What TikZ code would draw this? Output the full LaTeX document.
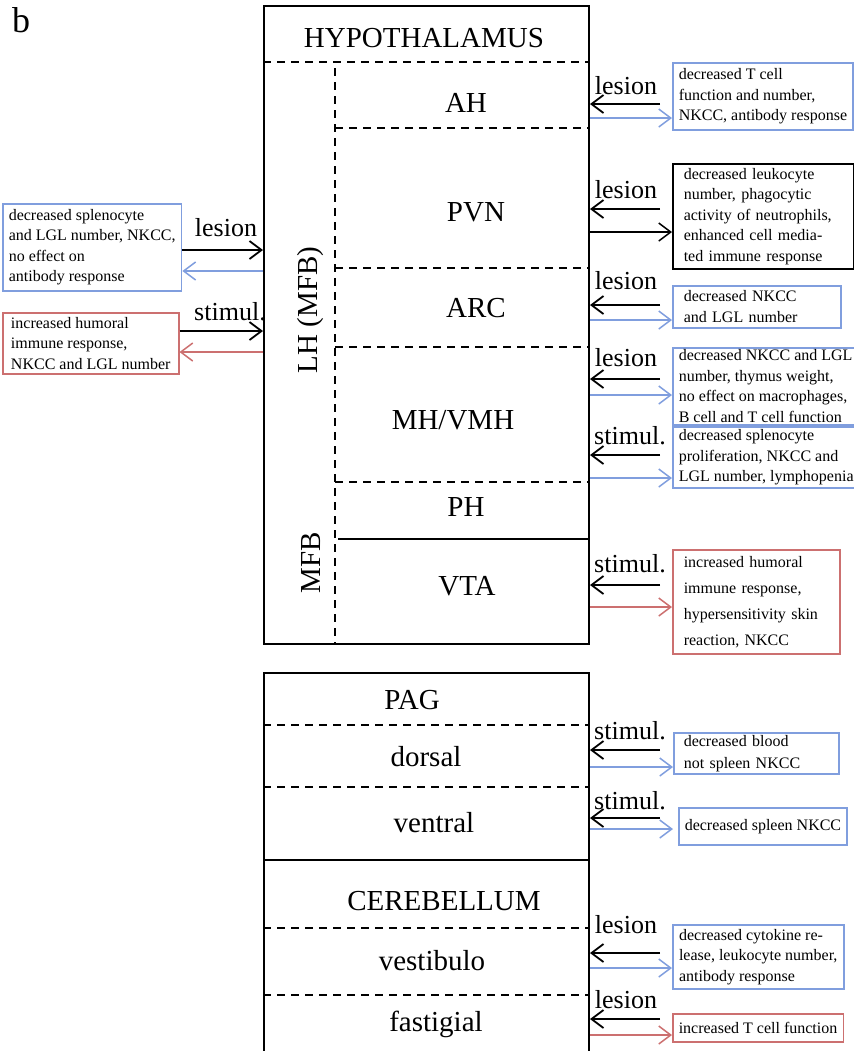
\documentclass[tikz,border=0pt]{standalone}
\usepackage{fontspec}
\setmainfont{Liberation Serif}
\usetikzlibrary{arrows.meta}
\definecolor{resblue}{RGB}{128,158,222}
\definecolor{resred}{RGB}{204,112,112}

\begin{document}
\begin{tikzpicture}[x=0.5pt,y=-0.5pt,>={Straight Barb[length=6pt,width=9pt]},
  region/.style={font=\fontsize{14.5}{17}\selectfont},
  act/.style={font=\fontsize{13}{15}\selectfont},
  res/.style={draw=#1,line width=0.75pt,align=left,anchor=north west,
    inner xsep=3pt,inner ysep=0pt,font=\fontsize{8}{10.25}\selectfont},
  res/.default=resblue,
  arr/.style={->,line width=0.9pt},
  back/.style={->,line width=0.75pt,draw=#1},
  div/.style={line width=0.75pt,dash pattern=on 4pt off 3pt}]
  \useasboundingbox (0,0) rectangle (854,1051);
  \node[font=\fontsize{18}{20}\selectfont] (panel) at (21,20) {b};
  \coordinate (tail) at (660,0);

  % hypothalamus column
  \node[draw,line width=1pt,anchor=north west,inner sep=0pt,
    minimum width=162.5pt,minimum height=319pt] (hypo) at (263,5) {};
  \draw[div] (hypo.west |- 0,62) -- (hypo.east |- 0,62);
  \draw[div] (335,68) -- (335,643);
  \draw[div] (335,128) -- (hypo.east |- 0,128);
  \draw[div] (335,268) -- (hypo.east |- 0,268);
  \draw[div] (335,347) -- (hypo.east |- 0,347);
  \draw[div] (335,482) -- (hypo.east |- 0,482);
  \draw[line width=0.75pt] (338,539) -- (hypo.east |- 0,539);
  \node[region] (hyp) at (424,38) {HYPOTHALAMUS};
  \node[region] (ah) at (466,103) {AH};
  \node[region] (pvn) at (476,212) {PVN};
  \node[region] (arc) at (476,308) {ARC};
  \node[region] (mh) at (453,420) {MH/VMH};
  \node[region] (ph) at (466,507) {PH};
  \node[region] (vta) at (467,586) {VTA};
  \node[region,rotate=90] (lh) at (311,310) {LH (MFB)};
  \node[region,rotate=90] (mfb) at (311,563) {MFB};

  % PAG and cerebellum column
  \node[draw,line width=1pt,anchor=north west,inner sep=0pt,
    minimum width=162.5pt,minimum height=194pt] (low) at (263,672) {};
  \draw[div] (low.west |- 0,725) -- (low.east |- 0,725);
  \draw[div] (low.west |- 0,787) -- (low.east |- 0,787);
  \draw[line width=1pt] (low.west |- 0,860) -- (low.east |- 0,860);
  \draw[div] (low.west |- 0,928) -- (low.east |- 0,928);
  \draw[div] (low.west |- 0,995) -- (low.east |- 0,995);
  \node[region] (pag) at (412,700) {PAG};
  \node[region] (dors) at (426,757) {dorsal};
  \node[region] (vent) at (434,823) {ventral};
  \node[region] (cer) at (444,901) {CEREBELLUM};
  \node[region] (vest) at (432,961) {vestibulo};
  \node[region] (fast) at (436,1024) {fastigial};

  % result boxes, left
  \node[res,minimum width=88pt,minimum height=43.5pt] (lhles) at (2,203)
    {decreased splenocyte\\and LGL number, NKCC,\\no effect on\\antibody response};
  \node[res=resred,minimum width=88pt,minimum height=30.5pt] (lhsti) at (2,312)
    {increased humoral\\immune response,\\NKCC and LGL number};
  \node[act] (t1) at (226,228) {lesion};
  \node[act] (t2) at (230,312) {stimul.};
  \draw[arr] (lhles.east |- 0,250) -- (hypo.west |- 0,250);
  \draw[back=resblue] (hypo.west |- 0,271) -- (lhles.east |- 0,271);
  \draw[arr] (lhsti.east |- 0,331) -- (hypo.west |- 0,331);
  \draw[back=resred] (hypo.west |- 0,352) -- (lhsti.east |- 0,352);

  % result boxes, right
  \node[res,minimum width=89.5pt,minimum height=33.5pt] (ahres) at (672,62)
    {decreased T cell\\function and number,\\NKCC, antibody response};
  \node[res=black,minimum width=90.5pt,minimum height=52.5pt,text width=79.5pt] (pvnres) at (672,163)
    {decreased leukocyte\\number, phagocytic\\activity of neutrophils,\\enhanced cell media-\\ted immune response};
  \node[res,minimum width=84pt,minimum height=21pt,text width=73pt] (arcres) at (672,285)
    {decreased NKCC\\and LGL number};
  \node[res,minimum width=92pt,minimum height=38.5pt] (mhles) at (672,347)
    {decreased NKCC and LGL\\number, thymus weight,\\no effect on macrophages,\\B cell and T cell function};
  \node[res,minimum width=92pt,minimum height=30.5pt] (mhsti) at (672,426)
    {decreased splenocyte\\proliferation, NKCC and\\LGL number, lymphopenia};
  \node[res=resred,minimum width=83.5pt,minimum height=52pt,text width=72.5pt,
    font=\fontsize{8}{13}\selectfont] (vtares) at (672,549)
    {increased humoral\\immune response,\\hypersensitivity skin\\reaction, NKCC};
  \node[res,minimum width=82.5pt,minimum height=20.5pt,text width=72.5pt,
    font=\fontsize{8}{11}\selectfont] (dorres) at (673,732)
    {decreased blood\\not spleen NKCC};
  \node[res,minimum width=81pt,minimum height=18.5pt] (venres) at (678,807)
    {decreased spleen NKCC};
  \node[res,minimum width=85.5pt,minimum height=32pt] (vesres) at (672,924)
    {decreased cytokine re-\\lease, leukocyte number,\\antibody response};
  \node[res=resred,minimum width=84.5pt,minimum height=14pt] (fasres) at (672,1013)
    {increased T cell function};

  \node[act] (t3) at (626,86) {lesion};
  \node[act] (t4) at (626,190) {lesion};
  \node[act] (t5) at (626,281) {lesion};
  \node[act] (t6) at (626,358) {lesion};
  \node[act] (t7) at (630,436) {stimul.};
  \node[act] (t8) at (630,564) {stimul.};
  \node[act] (t9) at (630,731) {stimul.};
  \node[act] (t10) at (630,801) {stimul.};
  \node[act] (t11) at (626,925) {lesion};
  \node[act] (t12) at (626,1000) {lesion};

  \draw[arr] (tail |- 0,104) -- (hypo.east |- 0,104);
  \draw[back=resblue] (hypo.east |- 0,118) -- (ahres.west |- 0,118);
  \draw[arr] (tail |- 0,209) -- (hypo.east |- 0,209);
  \draw[back=black] (hypo.east |- 0,232) -- (pvnres.west |- 0,232);
  \draw[arr] (tail |- 0,305) -- (hypo.east |- 0,305);
  \draw[back=resblue] (hypo.east |- 0,320) -- (arcres.west |- 0,320);
  \draw[arr] (tail |- 0,379) -- (hypo.east |- 0,379);
  \draw[back=resblue] (hypo.east |- 0,395) -- (mhles.west |- 0,395);
  \draw[arr] (tail |- 0,455) -- (hypo.east |- 0,455);
  \draw[back=resblue] (hypo.east |- 0,478) -- (mhsti.west |- 0,478);
  \draw[arr] (tail |- 0,585) -- (hypo.east |- 0,585);
  \draw[back=resred] (hypo.east |- 0,607) -- (vtares.west |- 0,607);
  \draw[arr] (tail |- 0,750) -- (low.east |- 0,750);
  \draw[back=resblue] (low.east |- 0,767) -- (dorres.west |- 0,767);
  \draw[arr] (tail |- 0,818) -- (low.east |- 0,818);
  \draw[back=resblue] (low.east |- 0,829) -- (dorres.west |- 0,829);
  \draw[arr] (tail |- 0,953) -- (low.east |- 0,953);
  \draw[back=resblue] (low.east |- 0,968) -- (vesres.west |- 0,968);
  \draw[arr] (tail |- 0,1019) -- (low.east |- 0,1019);
  \draw[back=resred] (low.east |- 0,1035) -- (fasres.west |- 0,1035);
\end{tikzpicture}
\end{document}
